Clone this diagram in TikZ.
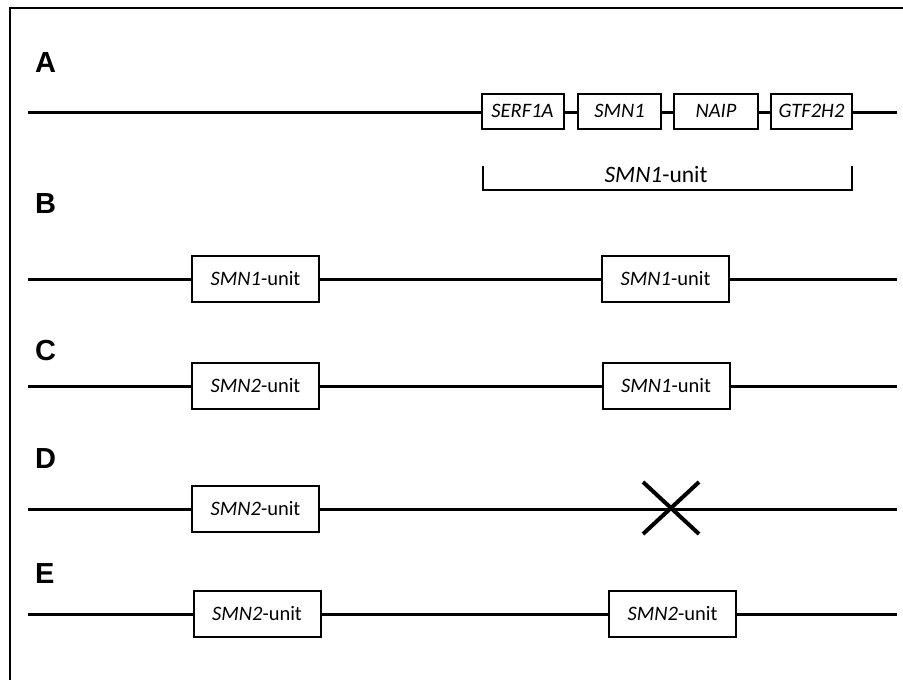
\documentclass[tikz,border=0pt]{standalone}
\usepackage{fontspec}
\newfontfamily\labfont{Liberation Sans}
\newfontfamily\calfont{Carlito}
\begin{document}
\begin{tikzpicture}[x=1pt,y=-1pt,
  chrom/.style={line width=3pt},
  unitbox/.style={draw,line width=2pt,minimum width=127pt,minimum height=46pt,inner sep=0pt,fill=white,font=\calfont\fontsize{20.5}{20.5}\selectfont},
  genebox/.style={draw,line width=2pt,minimum height=35pt,inner sep=0pt,fill=white,font=\calfont\itshape\fontsize{20.5}{20.5}\selectfont},
  panel/.style={anchor=base west,inner sep=0pt,font=\labfont\bfseries\fontsize{29}{29}\selectfont},
  xmark/.style={line width=4pt},
  brace/.style={line width=1.2pt}]
\useasboundingbox (0,0) rectangle (903,680);
% frame
\coordinate (f1) at (10,680);
\coordinate (f2) at (10,8);
\coordinate (f3) at (903,8);
\draw[line width=2pt] (f1) -- (f2) -- (f3);
% labels
\node[panel] (lA) at (35,72) {A};
\node[panel] (lB) at (35,213) {B};
\node[panel] (lC) at (35,360) {C};
\node[panel] (lD) at (35,468) {D};
\node[panel] (lE) at (35,583) {E};
% A
\coordinate (a0) at (28,112);
\coordinate (a5) at (897,112);
\node[genebox,minimum width=82pt] (g1) at (522.5,111) {SERF1A};
\node[genebox,minimum width=83pt] (g2) at (619.5,111) {SMN1};
\node[genebox,minimum width=84pt] (g3) at (716,111) {NAIP};
\node[genebox,minimum width=81pt] (g4) at (811.5,111) {GTF2H2};
\draw[chrom] (a0) -- (a0 -| g1.west);
\draw[chrom] (a0 -| g1.east) -- (a0 -| g2.west);
\draw[chrom] (a0 -| g2.east) -- (a0 -| g3.west);
\draw[chrom] (a0 -| g3.east) -- (a0 -| g4.west);
\draw[chrom] (a0 -| g4.east) -- (a5);
\coordinate (k1) at (483,166);
\coordinate (k2) at (483,190);
\coordinate (k3) at (852,190);
\coordinate (k4) at (852,166);
\draw[brace] (k1) -- (k2) -- (k3) -- (k4);
\node[font=\calfont\fontsize{23.5}{23.5}\selectfont] (ku) at (656,175) {\textit{SMN1}-unit};
% B
\coordinate (b0) at (28,279);
\coordinate (b3) at (897,279);
\node[unitbox] (b1) at (255.5,279) {\textit{SMN1}-unit};
\node[unitbox] (b2) at (665.5,279) {\textit{SMN1}-unit};
\draw[chrom] (b0) -- (b1);
\draw[chrom] (b1) -- (b2);
\draw[chrom] (b2) -- (b3);
% C
\coordinate (c0) at (28,386);
\coordinate (c3) at (897,386);
\node[unitbox] (c1) at (255.5,386) {\textit{SMN2}-unit};
\node[unitbox] (c2) at (666,386) {\textit{SMN1}-unit};
\draw[chrom] (c0) -- (c1);
\draw[chrom] (c1) -- (c2);
\draw[chrom] (c2) -- (c3);
% D
\coordinate (d0) at (28,509);
\coordinate (d3) at (897,509);
\coordinate (dx) at (671,508);
\node[unitbox] (d1) at (255.5,509) {\textit{SMN2}-unit};
\draw[chrom] (d0) -- (d1);
\draw[chrom] (d1) -- (d3);
\draw[xmark] (dx) +(-28,-26) -- +(28,26);
\draw[xmark] (dx) +(-28,26) -- +(28,-26);
% E
\coordinate (e0) at (28,614);
\coordinate (e3) at (897,614);
\node[unitbox] (e1) at (257,614) {\textit{SMN2}-unit};
\node[unitbox] (e2) at (672.5,614) {\textit{SMN2}-unit};
\draw[chrom] (e0) -- (e1);
\draw[chrom] (e1) -- (e2);
\draw[chrom] (e2) -- (e3);
\end{tikzpicture}
\end{document}
